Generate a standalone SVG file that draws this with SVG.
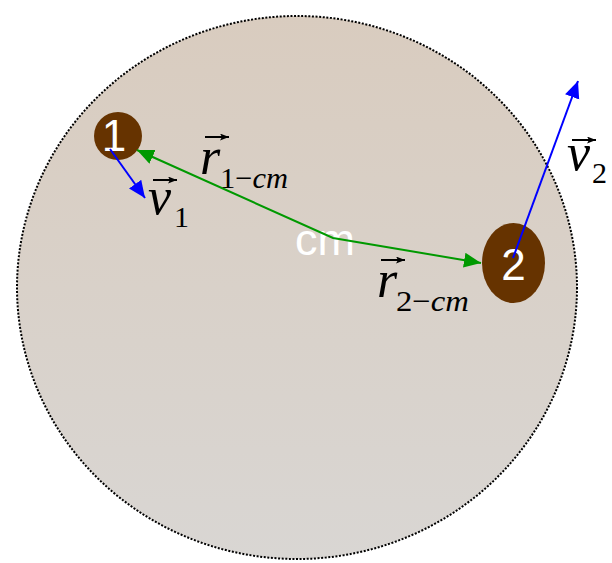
<svg xmlns="http://www.w3.org/2000/svg" width="612" height="563" viewBox="0 0 612 563">
<defs>
<linearGradient id="bodyGrad" x1="0" y1="0" x2="0" y2="1">
<stop offset="0" stop-color="#d9ccbf"/>
<stop offset="1" stop-color="#d9d6d3"/>
</linearGradient>
<marker id="ahBlue" markerUnits="userSpaceOnUse" markerWidth="18" markerHeight="16" refX="17" refY="7.5" orient="auto-start-reverse" viewBox="0 0 18 16">
<path d="M0,0 L17,7.5 L0,15 z" fill="#0000ff"/>
</marker>
<marker id="ahGreen" markerUnits="userSpaceOnUse" markerWidth="18" markerHeight="16" refX="17" refY="7.5" orient="auto-start-reverse" viewBox="0 0 18 16">
<path d="M0,0 L17,7.5 L0,15 z" fill="#009900"/>
</marker>
<marker id="ahAcc" markerUnits="userSpaceOnUse" markerWidth="10" markerHeight="8" refX="9" refY="3.5" orient="auto" viewBox="0 0 10 8">
<path d="M0,0 L9,3.5 L0,7 L2,3.5 z" fill="#000"/>
</marker>
</defs>
<style>
.particle{fill:#663300;}
.num{font-family:"Liberation Sans",Arial,sans-serif;font-size:44px;fill:#ffffff;text-anchor:middle;}
.math{font-family:"Liberation Serif","Times New Roman",serif;font-style:italic;fill:#000;}
.main{font-size:52px;}
.sub{font-size:30px;}
.up{font-style:normal;}
.acc{stroke:#000;stroke-width:2;fill:none;marker-end:url(#ahAcc);}
.vel{stroke:#0000ff;stroke-width:2;fill:none;marker-end:url(#ahBlue);}
.rel{stroke:#009900;stroke-width:2;fill:none;marker-start:url(#ahGreen);marker-end:url(#ahGreen);}
</style>

<g id="body">
<ellipse cx="297" cy="287.5" rx="280" ry="271.5" fill="url(#bodyGrad)" stroke="#000" stroke-width="2" stroke-dasharray="2 1.6"/>
</g>

<g id="particle1">
<circle class="particle" cx="118" cy="136" r="24"/>
<text class="num" x="114" y="151">1</text>
</g>

<g id="particle2">
<ellipse class="particle" cx="513.5" cy="263" rx="31.5" ry="40"/>
<text class="num" x="513.5" y="280">2</text>
</g>

<g id="cm">
<text x="295" y="255" font-family="Liberation Sans, Arial, sans-serif" font-size="45" fill="#ffffff">cm</text>
</g>

<g id="connectors">
<polyline class="rel" points="137,150 333,238 481,263"/>
<line class="vel" x1="110" y1="149" x2="145" y2="198"/>
<line class="vel" x1="513" y1="258" x2="578" y2="81"/>
</g>

<g id="label-r1cm">
<line class="acc" x1="205" y1="137" x2="229" y2="137"/>
<text class="math main" x="200" y="174">r</text>
<text class="math sub" x="220" y="188" textLength="68" lengthAdjust="spacingAndGlyphs"><tspan class="up">1−</tspan>cm</text>
</g>

<g id="label-v1">
<line class="acc" x1="153" y1="180" x2="177" y2="180"/>
<text class="math main" x="148" y="214">v</text>
<text class="math sub up" x="174" y="227">1</text>
</g>

<g id="label-r2cm">
<line class="acc" x1="381" y1="260" x2="405" y2="260"/>
<text class="math main" x="377" y="297">r</text>
<text class="math sub" x="396" y="311" textLength="73" lengthAdjust="spacingAndGlyphs"><tspan class="up">2−</tspan>cm</text>
</g>

<g id="label-v2">
<line class="acc" x1="572" y1="140" x2="596" y2="140"/>
<text class="math main" x="567" y="170">v</text>
<text class="math sub up" x="592" y="183">2</text>
</g>
</svg>
